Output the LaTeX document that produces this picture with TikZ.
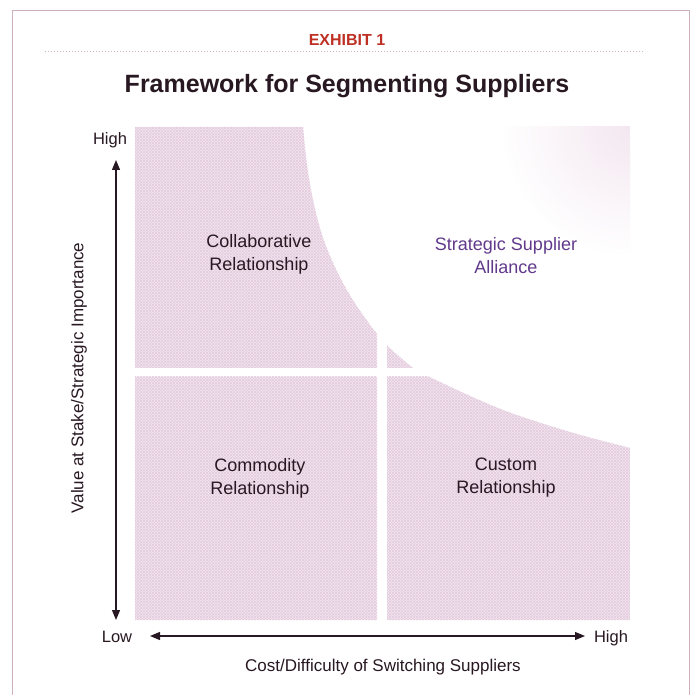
\documentclass[tikz,border=0pt]{standalone}
\usepackage{fontspec}
\setmainfont{Liberation Sans}
\usetikzlibrary{arrows.meta,patterns}
\definecolor{ink}{RGB}{40,24,34}
\definecolor{exhibitred}{RGB}{190,48,36}
\definecolor{alliance}{RGB}{98,58,140}
\definecolor{segfill}{RGB}{243,231,240}
\definecolor{segdark}{RGB}{228,204,222}
\definecolor{framecol}{RGB}{205,175,190}

\begin{document}
\begin{tikzpicture}[x=1pt,y=-1pt,
  lbl/.style={font=\fontsize{18}{23}\selectfont, text=ink, align=center},
  axislbl/.style={font=\fontsize{17}{20}\selectfont, text=ink},
  endlbl/.style={font=\fontsize{16.5}{20}\selectfont, text=ink, anchor=base},
  axisline/.style={draw=ink, line width=1.2pt,
    {Triangle[length=10pt,width=8pt]}-{Triangle[length=10pt,width=8pt]}},
  seg/.style={fill=segfill}]

\useasboundingbox (0,0) rectangle (697,695);
\fill[white] (0,0) rectangle (697,695);

% outer frame, open at the bottom edge
\draw[framecol, line width=0.8pt] (12,700) -- (12,10) -- (689,10) -- (689,700);

% heading
\node[font=\bfseries\fontsize{16}{18}\selectfont, text=exhibitred, anchor=base]
  (exhibit) at (347,46) {EXHIBIT 1};
\draw[framecol, line width=0.9pt, dash pattern=on 1pt off 2pt] (45,51) -- (645,51);
\node[font=\bfseries\fontsize{25}{28}\selectfont, text=ink, anchor=base]
  (title) at (347,93) {Framework for Segmenting Suppliers};

% shaded segments, cut back by the curved frontier
\begin{scope}
  \clip (135,127) -- plot[smooth, tension=0.55] coordinates {
      (303,127) (307,165) (313,200) (322,235) (334,265) (348,292)
      (365,318) (385,343) (412,367) (440,382) (503,410) (570,432) (630,448)}
    -- (630,620) -- (135,620) -- cycle;
  \foreach \a/\b/\c/\d in {135/127/377/368, 387/127/630/368,
                           135/377/377/620, 387/377/630/620} {
    \fill[seg] (\a,\b) rectangle (\c,\d);
    \fill[pattern=north east lines, pattern color=segdark] (\a,\b) rectangle (\c,\d);
    \fill[pattern=north west lines, pattern color=segdark] (\a,\b) rectangle (\c,\d);
  }
\end{scope}
% faint tint in the upper right corner
\begin{scope}
  \clip (387,127) rectangle (630,368);
  \shade[inner color=segfill, outer color=white] (630,127) circle (130);
\end{scope}

% segment labels
\node[lbl] (collab) at (259,254) {Collaborative\\Relationship};
\node[lbl, text=alliance] (alliance) at (506,256) {Strategic Supplier\\Alliance};
\node[lbl] (commodity) at (260,478) {Commodity\\Relationship};
\node[lbl] (custom) at (506,478) {Custom\\Relationship};

% axes
\coordinate (ytop) at (116,160);
\coordinate (ybot) at (116,620);
\coordinate (xleft) at (150,636);
\coordinate (xright) at (585,636);
\draw[axisline] (ybot) -- (ytop);
\draw[axisline] (xleft) -- (xright);

\node[endlbl] (yhigh) at (110,145) {High};
\node[endlbl] (xlow) at (117,642) {Low};
\node[endlbl] (xhigh) at (611,642) {High};
\node[axislbl, anchor=base] (xlabel) at (383,671) {Cost/Difficulty of Switching Suppliers};
\node[axislbl, rotate=90] (ylabel) at (79,378) {Value at Stake/Strategic Importance};
\end{tikzpicture}
\end{document}
